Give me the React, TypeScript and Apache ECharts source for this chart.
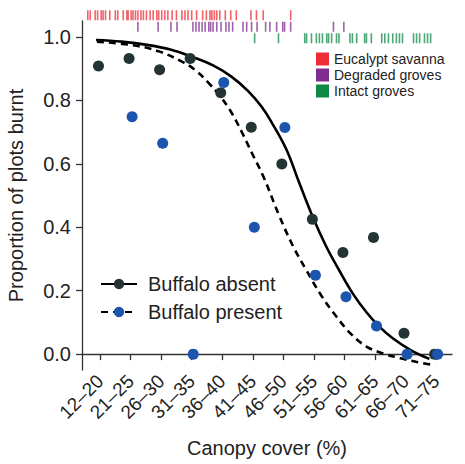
import React, { useEffect, useRef } from "react";
import * as echarts from "echarts";

const categories = ["12–20", "21–25", "26–30", "31–35", "36–40", "41–45", "46–50", "51–55", "56–60", "61–65", "66–70", "71–75"];
// canopy-cover position (%) of each category on the continuous scale
const categoryCover = [18, 23, 28, 33, 38, 43, 48, 53, 58, 63, 68, 73];
const yTicks = [0, 0.2, 0.4, 0.6, 0.8, 1.0];

const absentValues = [0.908, 0.932, 0.896, 0.932, 0.824, 0.715, 0.599, 0.425, 0.32, 0.368, 0.066, 0.0];
const presentValues = [null, 0.748, 0.665, 0.0, 0.856, 0.4, 0.714, 0.249, 0.181, 0.089, 0.0, 0.0];

const absentCurveX = [17.35, 21.5, 25.95, 29.5, 33.05, 36.5, 39.55, 42.2, 44.45, 46.1, 48.5, 50.6, 52.8, 55.0, 57.2, 59.4, 61.6, 63.8, 65.9, 68.9, 71.9];
const absentCurveY = [0.99, 0.985, 0.974, 0.96, 0.937, 0.91, 0.874, 0.83, 0.78, 0.73, 0.645, 0.54, 0.433, 0.34, 0.262, 0.19, 0.132, 0.085, 0.05, 0.012, -0.015];
const presentCurveX = [17.5, 23.25, 27.5, 31.4, 33.6, 35.75, 37.7, 39.55, 41.2, 42.85, 44.75, 47.4, 49.6, 51.75, 54.2, 56.7, 59.1, 61.6, 64.3, 67.0, 69.7, 72.4];
const presentCurveY = [0.985, 0.974, 0.955, 0.922, 0.895, 0.855, 0.812, 0.76, 0.7, 0.634, 0.559, 0.433, 0.34, 0.265, 0.185, 0.118, 0.063, 0.024, 0.002, -0.012, -0.024, -0.034];

const eucalyptRug = [16.0, 16.4, 17.2, 17.6, 18.2, 18.5, 18.9, 19.6, 20.5, 20.9, 21.8, 22.4, 22.6, 23.1, 23.4, 23.8, 24.2, 24.7, 25.1, 25.6, 26.2, 26.7, 27.3, 27.6, 28.1, 28.6, 29.1, 29.8, 30.5, 31.4, 31.9, 32.4, 33.0, 33.8, 34.8, 35.4, 36.0, 36.3, 36.7, 37.1, 37.6, 38.5, 39.4, 40.3, 42.7, 43.6, 44.7, 49.2];
const degradedRug = [24.2, 27.5, 29.6, 30.6, 33.2, 33.7, 34.2, 34.7, 35.2, 35.8, 36.1, 36.5, 37.1, 37.8, 38.6, 39.1, 39.7, 41.4, 42.0, 42.8, 43.7, 45.1, 45.8, 46.9, 47.9, 48.2, 49.2, 56.2, 57.9];
const intactRug = [43.3, 47.2, 51.5, 51.8, 52.6, 53.4, 53.9, 54.4, 55.1, 55.4, 55.9, 56.7, 57.1, 58.9, 59.3, 60.0, 61.3, 61.6, 62.4, 64.1, 64.6, 65.2, 65.9, 66.5, 67.0, 67.5, 69.3, 69.8, 70.3, 71.1, 71.6, 72.1];

const rugNames = ["Eucalypt savanna", "Degraded groves", "Intact groves"];
const rugData = [eucalyptRug, degradedRug, intactRug];
const rugColors = ["#ee2d36", "#7e2d8e", "#0f8a45"];

const FONT = "'Liberation Sans', Arial, Helvetica, sans-serif";
const X_MIN = 15.05;
const X_MAX = 75.6;
const DODGE = 0.25;

export default function App() {
  const ref = useRef<HTMLDivElement>(null);
  useEffect(() => {
    document.body.style.margin = "0";
    if (!ref.current) return;
    const chart = echarts.init(ref.current, undefined, { renderer: "svg" });
    const zip = (xs: number[], ys: number[]) => xs.map((x, i) => [x, ys[i]]);
    const option: any = {
      animation: false,
      backgroundColor: "#ffffff",
      textStyle: { fontFamily: FONT },
      grid: [
        { left: 82, right: 13, top: 21, bottom: 94, outerBoundsMode: "none", containLabel: false },
        { left: 82, right: 13, top: 9.5, height: 34.5, outerBoundsMode: "none", containLabel: false },
      ],
      xAxis: [
        {
          type: "value",
          gridIndex: 0,
          min: X_MIN,
          max: X_MAX,
          splitLine: { show: false },
          axisLine: { lineStyle: { color: "#333", width: 1.3 } },
          axisTick: { show: true, length: 6, customValues: categoryCover, lineStyle: { color: "#333", width: 1.3 } },
          axisLabel: {
            customValues: categoryCover,
            rotate: 45,
            fontSize: 19,
            color: "#222",
            margin: 8,
            fontFamily: FONT,
            formatter: (v: number) => {
              const i = categoryCover.indexOf(Math.round(v));
              return i >= 0 ? categories[i] : "";
            },
          },
          name: "Canopy cover (%)",
          nameLocation: "middle",
          nameGap: 68,
          nameTextStyle: { fontSize: 20, color: "#222", fontFamily: FONT },
        },
        { type: "value", gridIndex: 1, min: X_MIN, max: X_MAX, show: false },
      ],
      yAxis: [
        {
          type: "value",
          gridIndex: 0,
          min: -0.05,
          max: 1.05,
          splitLine: { show: false },
          axisLine: { show: true, lineStyle: { color: "#333", width: 1.3 } },
          axisTick: { show: true, length: 6, customValues: yTicks, lineStyle: { color: "#333", width: 1.3 } },
          axisLabel: {
            customValues: yTicks,
            fontSize: 20,
            color: "#222",
            margin: 11,
            fontFamily: FONT,
            formatter: (v: number) => v.toFixed(1),
          },
          name: "Proportion of plots burnt",
          nameLocation: "middle",
          nameGap: 56,
          nameTextStyle: { fontSize: 20, color: "#222", fontFamily: FONT },
        },
        { type: "category", gridIndex: 1, data: rugNames, inverse: true, show: false },
      ],
      legend: [
        {
          data: ["Buffalo absent", "Buffalo present"],
          orient: "vertical",
          left: 100,
          top: 274,
          padding: 0,
          itemWidth: 36,
          itemHeight: 13,
          itemGap: 8,
          textStyle: { fontSize: 20, color: "#222", fontFamily: FONT, padding: [0, 0, 0, 6] },
        },
        {
          data: rugNames,
          orient: "vertical",
          left: 316,
          top: 52,
          padding: 0,
          icon: "rect",
          itemWidth: 13,
          itemHeight: 13,
          itemGap: 2,
          itemStyle: { opacity: 1 },
          textStyle: { fontSize: 14, lineHeight: 14, color: "#222", fontFamily: FONT },
        },
      ],
      series: [
        {
          name: "Buffalo absent",
          type: "line",
          xAxisIndex: 0,
          yAxisIndex: 0,
          data: zip(absentCurveX, absentCurveY),
          smooth: 0.4,
          symbol: "circle",
          showSymbol: false,
          itemStyle: { color: "#243434" },
          lineStyle: { color: "#000", width: 2.6 },
          z: 3,
        },
        {
          name: "Buffalo present",
          type: "line",
          xAxisIndex: 0,
          yAxisIndex: 0,
          data: zip(presentCurveX, presentCurveY),
          smooth: 0.4,
          symbol: "circle",
          showSymbol: false,
          itemStyle: { color: "#1c55ad" },
          lineStyle: { color: "#000", width: 2.6, type: [7, 5] },
          z: 3,
        },
        {
          name: "absent points",
          type: "scatter",
          xAxisIndex: 0,
          yAxisIndex: 0,
          data: absentValues.map((v, i) => [categoryCover[i] - DODGE, v]),
          symbolSize: 11,
          itemStyle: { color: "#243434", opacity: 1 },
          z: 4,
        },
        {
          name: "present points",
          type: "scatter",
          xAxisIndex: 0,
          yAxisIndex: 0,
          data: presentValues
            .map((v, i) => (v === null ? null : [categoryCover[i] + DODGE, v]))
            .filter((d) => d !== null),
          symbolSize: 11,
          itemStyle: { color: "#1c55ad", opacity: 1 },
          z: 5,
        },
        ...rugNames.map((name, k) => ({
          name,
          type: "scatter",
          xAxisIndex: 1,
          yAxisIndex: 1,
          data: rugData[k].map((x) => [x, name]),
          symbol: "rect",
          symbolSize: [1.6, 10],
          itemStyle: { color: rugColors[k], opacity: 0.75 },
          silent: true,
          z: 2,
        })),
      ],
    };
    chart.setOption(option);
    return () => chart.dispose();
  }, []);
  return <div ref={ref} style={{ width: 465, height: 464 }} />;
}
